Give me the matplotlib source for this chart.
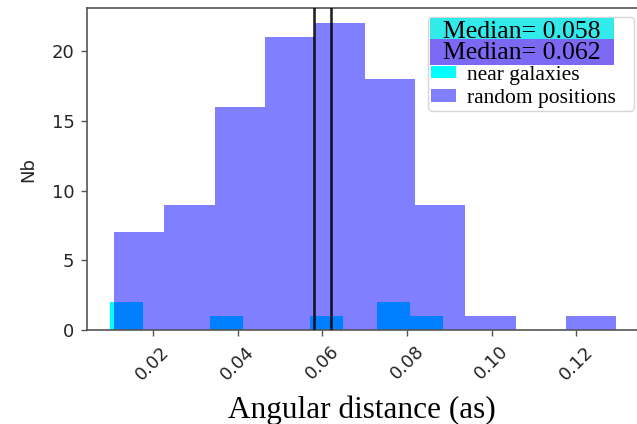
import matplotlib
matplotlib.use("Agg")
import matplotlib.pyplot as plt
import numpy as np
from matplotlib.patches import Rectangle, Patch
from matplotlib.lines import Line2D

# Histogram counts per bin and the data range each histogram spans
near_counts = [2, 0, 0, 1, 0, 0, 1, 0, 2, 1]
near_range = (0.0099, 0.0886)
rand_counts = [7, 9, 16, 21, 22, 18, 9, 1, 0, 1]
rand_range = (0.0109, 0.1293)
medians = [0.058, 0.062]
series_labels = ["near galaxies", "random positions"]
xticks = [0.02, 0.04, 0.06, 0.08, 0.10, 0.12]
yticks = [0, 5, 10, 15, 20]

W, H = 637, 424
fig = plt.figure(figsize=(W / 100, H / 100), dpi=100)


def fx(x):
    return x / W


def fy(y):
    return 1 - y / H


ax = fig.add_axes([fx(87), fy(330), fx(637) - fx(87), fy(8) - fy(330)])


def draw_hist(counts, rng, **kw):
    edges = np.linspace(rng[0], rng[1], len(counts) + 1)
    centers = 0.5 * (edges[:-1] + edges[1:])
    return ax.hist(centers, bins=edges, weights=counts, **kw)


draw_hist(near_counts, near_range, color="cyan", label=series_labels[0])
draw_hist(rand_counts, rand_range, color="blue", alpha=0.5, label=series_labels[1])

for m in medians:
    ax.axvline(m, color="black", alpha=0.85, lw=1.9, zorder=3)

ax.set_xlim(0.00446, 0.1343)
ax.set_ylim(0, 23.1)
ax.set_xticks(xticks)
ax.set_xticklabels([f"{t:.2f}" for t in xticks], rotation=45)
ax.set_yticks(yticks)

tick_color = "#262626"
ax.tick_params(axis="both", labelsize=13, colors=tick_color, length=4, width=1, pad=5)
ax.tick_params(axis="both", color="#555555")
for side in ["left", "top", "bottom"]:
    ax.spines[side].set_color("#555555")
    ax.spines[side].set_linewidth(1.2)
ax.spines["right"].set_visible(False)

ax.set_ylabel("Nb", fontsize=13, color=tick_color, labelpad=10)
ax.set_xlabel("Angular distance (as)", fontsize=22.5,
              family="Liberation Serif", color="black", labelpad=9)

# Legend: two spacer rows (under the median boxes) plus the two histograms
spacer = Line2D([], [], lw=0)
handles = [spacer, spacer,
           Patch(facecolor="cyan"),
           Patch(facecolor="blue", alpha=0.5)]
labels = ["Median = 0.05800.", "Median = 0.06200."] + series_labels
leg = ax.legend(handles, labels, loc="upper right",
                bbox_to_anchor=(fx(634), fy(16.7)),
                bbox_transform=fig.transFigure, borderaxespad=0,
                prop={"family": "Liberation Serif", "size": 15.5},
                handlelength=1.16, handleheight=0.5, handletextpad=0.54,
                borderpad=0.12, labelspacing=0.2, framealpha=0.8,
                edgecolor="#cccccc")
for t in leg.get_texts()[:2]:
    t.set_alpha(0)

# Median boxes over the legend
box_colors = ["#33eaea", "#7d68f4"]
box_tops = [18.3, 39.3]
box_h = 26.0
for m, c, top in zip(medians, box_colors, box_tops):
    fig.patches.append(Rectangle((fx(430), fy(top + box_h)), fx(614) - fx(430),
                                 fy(top) - fy(top + box_h), facecolor=c,
                                 edgecolor="none", transform=fig.transFigure,
                                 figure=fig, zorder=4))
for m, top in zip(medians, box_tops):
    fig.text(fx(522), fy(top + 19.5), f"Median= {m:.3f}", ha="center",
             va="baseline", fontsize=18.5, family="Liberation Serif",
             color="black", zorder=5)

fig.savefig("out.png", dpi=100)
